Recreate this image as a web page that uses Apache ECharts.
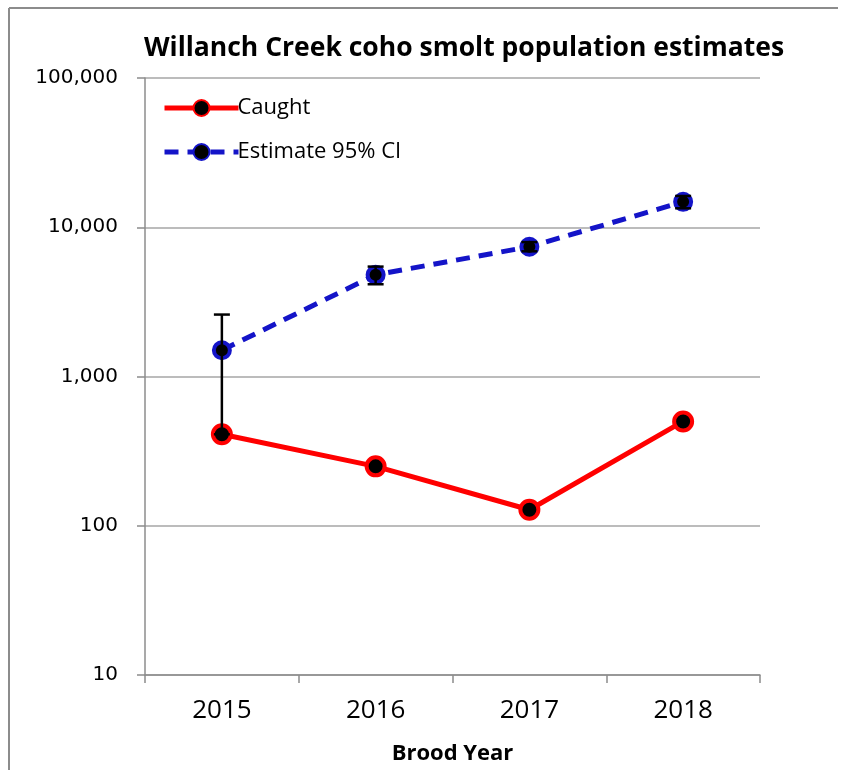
<!DOCTYPE html>
<html>
<head>
<meta charset="utf-8">
<script src="https://cdn.jsdelivr.net/npm/echarts@6/dist/echarts.min.js"></script>
<style>
  html, body { margin: 0; padding: 0; background: #fff; }
  #chart { width: 841px; height: 770px; }
</style>
</head>
<body>
<div id="chart"></div>
<script>
// Brood years on the category axis
const broodYears = ['2015', '2016', '2017', '2018'];
// Smolts caught in the trap each year
const caught = [410, 250, 128, 500];
// Population estimate with lower / upper 95% confidence limits
const estimate = [1500, 4800, 7400, 14800];
const ciLow = [410, 4150, 6900, 13400];
const ciHigh = [2600, 5450, 7950, 16200];
// Log-axis bounds
const yMin = 10;
const yMax = 100000;

const chart = echarts.init(document.getElementById('chart'), null, { renderer: 'canvas' });

const ciData = broodYears.map((y, i) => [i, ciLow[i], ciHigh[i]]);

const option = {
  backgroundColor: '#ffffff',
  animation: false,
  title: {
    text: 'Willanch Creek coho smolt population estimates',
    left: 459,
    textAlign: 'center',
    top: 30,
    textStyle: { fontFamily: 'Open Sans', fontWeight: 'bold', fontSize: 26.5, color: '#000' }
  },
  graphic: [
    { type: 'line', shape: { x1: 9, y1: 8, x2: 9, y2: 770 }, style: { stroke: '#8c8c8c', lineWidth: 2 } },
    { type: 'line', shape: { x1: 9, y1: 8, x2: 838, y2: 8 }, style: { stroke: '#8c8c8c', lineWidth: 2 } }
  ],
  legend: {
    orient: 'vertical',
    left: 157,
    top: 92,
    itemWidth: 74,
    itemHeight: 20,
    itemGap: 22,
    data: ['Caught', 'Estimate 95% CI'],
    lineStyle: { width: 5 },
    textStyle: { fontFamily: 'Open Sans', fontSize: 22, color: '#000', padding: [0, 0, 0, -6] }
  },
  grid: { left: 145, right: 81, top: 78, bottom: 93, containLabel: false },
  xAxis: {
    type: 'category',
    data: broodYears,
    boundaryGap: true,
    name: 'Brood Year',
    nameLocation: 'middle',
    nameGap: 68,
    nameTextStyle: { fontFamily: 'Open Sans', fontWeight: 'bold', fontSize: 22, color: '#000' },
    axisLine: { lineStyle: { color: '#8c8c8c', width: 1.5 } },
    axisTick: { show: true, length: 8, inside: false, alignWithLabel: false, lineStyle: { color: '#8c8c8c', width: 1.5 } },
    axisLabel: { fontFamily: 'Open Sans', fontSize: 26, color: '#000', margin: 23 },
    splitLine: { show: false }
  },
  yAxis: {
    type: 'log',
    logBase: 10,
    min: yMin,
    max: yMax,
    axisLine: { show: true, lineStyle: { color: '#8c8c8c', width: 1.5 } },
    axisTick: { show: true, length: 8, inside: false, lineStyle: { color: '#8c8c8c', width: 1.5 } },
    axisLabel: {
      fontFamily: 'DejaVu Sans', fontSize: 20, color: '#000', margin: 27,
      formatter: v => Math.round(v).toLocaleString('en-US')
    },
    splitLine: { show: true, lineStyle: { color: '#a6a6a6', width: 1.5 } },
    minorTick: { show: false }
  },
  series: [
    {
      name: 'Caught',
      type: 'line',
      data: caught,
      symbol: 'circle',
      symbolSize: 18,
      lineStyle: { color: '#ff0000', width: 5 },
      itemStyle: { color: '#000000', borderColor: '#ff0000', borderWidth: 4 },
      z: 3
    },
    {
      name: 'Estimate 95% CI',
      type: 'line',
      data: estimate,
      symbol: 'circle',
      symbolSize: 16,
      lineStyle: { color: '#1414c8', width: 5, type: [14, 9] },
      itemStyle: { color: '#000000', borderColor: '#1414c8', borderWidth: 4 },
      z: 3
    },
    {
      name: 'CI',
      type: 'custom',
      data: ciData,
      z: 4,
      silent: true,
      renderItem: (params, api) => {
        const x = api.value(0);
        const lo = api.coord([x, api.value(1)]);
        const hi = api.coord([x, api.value(2)]);
        const cap = 8;
        const style = { stroke: '#000', lineWidth: 2.5 };
        return {
          type: 'group',
          children: [
            { type: 'line', shape: { x1: lo[0], y1: lo[1], x2: hi[0], y2: hi[1] }, style },
            { type: 'line', shape: { x1: hi[0] - cap, y1: hi[1], x2: hi[0] + cap, y2: hi[1] }, style },
            { type: 'line', shape: { x1: lo[0] - cap, y1: lo[1], x2: lo[0] + cap, y2: lo[1] }, style }
          ]
        };
      }
    }
  ]
};

chart.setOption(option);
</script>
</body>
</html>
